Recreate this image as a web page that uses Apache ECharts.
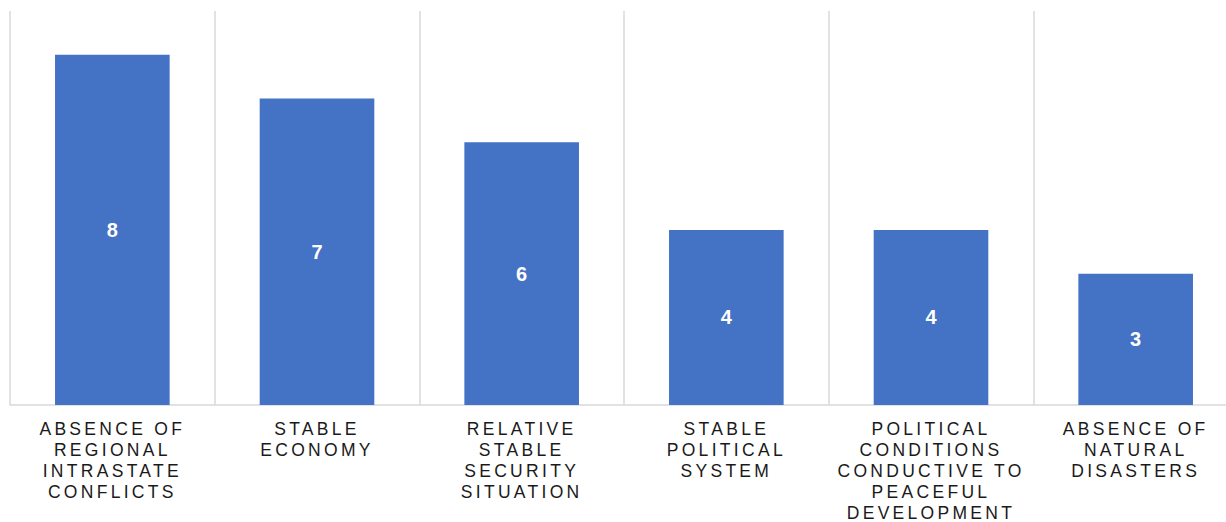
<!DOCTYPE html>
<html>
<head>
<meta charset="utf-8">
<script src="https://cdn.jsdelivr.net/npm/echarts@6/dist/echarts.min.js"></script>
<style>
html,body{margin:0;padding:0;background:#fff;}
#chart{width:1226px;height:522px;}
#chart svg text{letter-spacing:3.3px;}
#chart svg text[fill="#fff"], #chart svg text[fill="#ffffff"]{letter-spacing:0;}
</style>
</head>
<body>
<div id="chart"></div>
<script>
var categories = [
  "ABSENCE OF\nREGIONAL\nINTRASTATE\nCONFLICTS",
  "STABLE\nECONOMY",
  "RELATIVE\nSTABLE\nSECURITY\nSITUATION",
  "STABLE\nPOLITICAL\nSYSTEM",
  "POLITICAL\nCONDITIONS\nCONDUCTIVE TO\nPEACEFUL\nDEVELOPMENT",
  "ABSENCE OF\nNATURAL\nDISASTERS"
];
var values = [8, 7, 6, 4, 4, 3];

var chart = echarts.init(document.getElementById('chart'), null, {renderer: 'svg'});
chart.setOption({
  animation: false,
  backgroundColor: '#fff',
  grid: {left: 10, right: -12, top: 11, bottom: 117, containLabel: false, outerBoundsMode: 'none'},
  xAxis: {
    type: 'category',
    data: categories,
    boundaryGap: true,
    axisLine: {show: true, lineStyle: {color: '#d9d9d9', width: 1.5}},
    axisTick: {show: false},
    splitLine: {show: true, lineStyle: {color: '#d9d9d9', width: 1.5}},
    axisLabel: {
      interval: 0,
      margin: 13,
      color: '#1a1a1a',
      fontFamily: '"Liberation Sans", Arial, sans-serif',
      fontSize: 17.5,
      lineHeight: 21.2
    }
  },
  yAxis: {
    type: 'value',
    min: 0,
    max: 9,
    show: false,
    splitLine: {show: false}
  },
  series: [{
    type: 'bar',
    data: values,
    barWidth: '56%',
    itemStyle: {color: '#4472c4'},
    label: {
      show: true,
      position: 'inside',
      color: '#fff',
      fontFamily: '"Liberation Sans", Arial, sans-serif',
      fontWeight: 'bold',
      fontSize: 20
    }
  }]
});
</script>
</body>
</html>
